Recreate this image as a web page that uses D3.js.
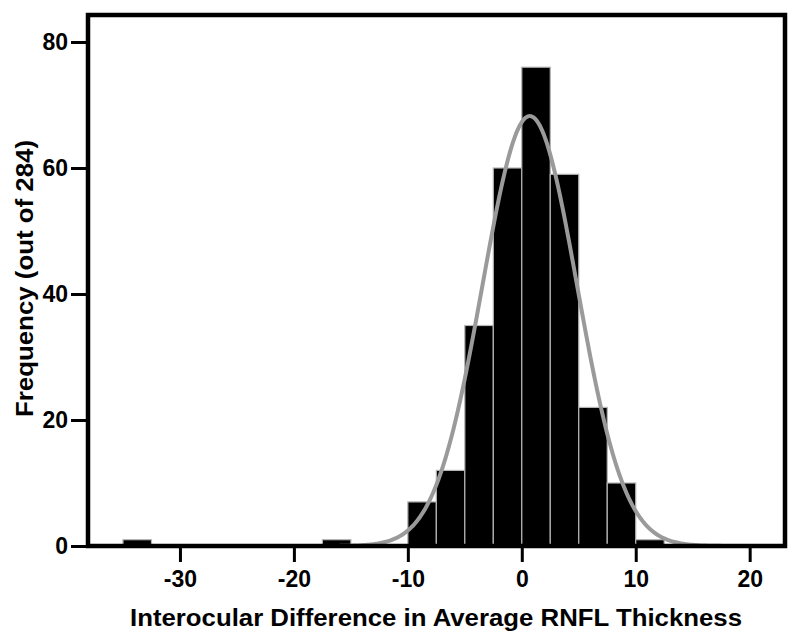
<!DOCTYPE html>
<html>
<head>
<meta charset="utf-8">
<script src="https://cdn.jsdelivr.net/npm/d3@7"></script>
<style>
  html, body { margin: 0; padding: 0; background: #fff; }
  svg { display: block; }
  text { font-family: "Liberation Sans", Arial, sans-serif; font-weight: bold; fill: #000; }
</style>
</head>
<body>
<svg id="chart" width="800" height="639"></svg>
<script>
// Histogram bins (lower edge) and counts
const binStarts = [-35, -17.5, -10, -7.5, -5, -2.5, 0, 2.5, 5, 7.5, 10];
const binWidth = 2.5;
const counts = [1, 1, 7, 12, 35, 60, 76, 59, 22, 10, 1];
const totalN = 284;
// Fitted normal curve parameters
const fitMean = 0.7;
const fitSD = 4.15;
const xTicks = [-30, -20, -10, 0, 10, 20];
const yTicks = [0, 20, 40, 60, 80];
const xLabel = "Interocular Difference in Average RNFL Thickness";
const yLabel = "Frequency (out of 284)";

const svg = d3.select("#chart");
const mLeft = 88, mRight = 785, mTop = 15, mBottom = 546;

const x = d3.scaleLinear().domain([-38.07, 23.1]).range([mLeft, mRight]);
const y = d3.scaleLinear().domain([0, 80]).range([mBottom, 42]);

// bars
svg.append("g").selectAll("rect")
  .data(binStarts.map((s, i) => ({ s, c: counts[i] })))
  .join("rect")
  .attr("x", d => x(d.s))
  .attr("width", d => x(d.s + binWidth) - x(d.s))
  .attr("y", d => y(d.c))
  .attr("height", d => y(0) - y(d.c))
  .attr("fill", "#000")
  .attr("stroke", "#b5b5b5")
  .attr("stroke-width", 1.2);

// normal curve
const curveXs = d3.range(-16, 23.01, 0.1);
const dens = v => totalN * binWidth / (fitSD * Math.sqrt(2 * Math.PI)) * Math.exp(-0.5 * ((v - fitMean) / fitSD) ** 2);
svg.append("path")
  .datum(curveXs)
  .attr("d", d3.line().x(v => x(v)).y(v => y(dens(v))))
  .attr("fill", "none")
  .attr("stroke", "#9a9a9a")
  .attr("stroke-width", 4);

// frame
svg.append("path")
  .attr("d", `M${mLeft},${mBottom}V${mTop}H${mRight}V${mBottom}Z`)
  .attr("fill", "none")
  .attr("stroke", "#000")
  .attr("stroke-width", 4.5)
  .attr("stroke-linejoin", "miter");

// axes
const fmt = d => String(d);
const xAxis = d3.axisBottom(x).tickValues(xTicks).tickSize(16).tickPadding(9).tickFormat(fmt);
const gx = svg.append("g").attr("transform", `translate(0,${mBottom})`).call(xAxis);
gx.select(".domain").remove();
gx.selectAll(".tick line").attr("stroke", "#000").attr("stroke-width", 3);
gx.selectAll(".tick text").attr("font-size", 23).style("font-family", '"Liberation Sans", Arial, sans-serif').style("font-weight", "bold").attr("fill", "#000");

const yAxis = d3.axisLeft(y).tickValues(yTicks).tickSize(17).tickPadding(3).tickFormat(fmt);
const gy = svg.append("g").attr("transform", `translate(${mLeft},0)`).call(yAxis);
gy.select(".domain").remove();
gy.selectAll(".tick line").attr("stroke", "#000").attr("stroke-width", 3);
gy.selectAll(".tick text").attr("font-size", 23).style("font-family", '"Liberation Sans", Arial, sans-serif').style("font-weight", "bold").attr("fill", "#000");

// titles
svg.append("text")
  .attr("x", 436).attr("y", 626)
  .attr("text-anchor", "middle")
  .attr("font-size", 23)
  .attr("textLength", 612)
  .attr("lengthAdjust", "spacingAndGlyphs")
  .text(xLabel);

svg.append("text")
  .attr("transform", "translate(33,278.5) rotate(-90)")
  .attr("text-anchor", "middle")
  .attr("font-size", 23)
  .attr("textLength", 277)
  .attr("lengthAdjust", "spacingAndGlyphs")
  .text(yLabel);
</script>
</body>
</html>
